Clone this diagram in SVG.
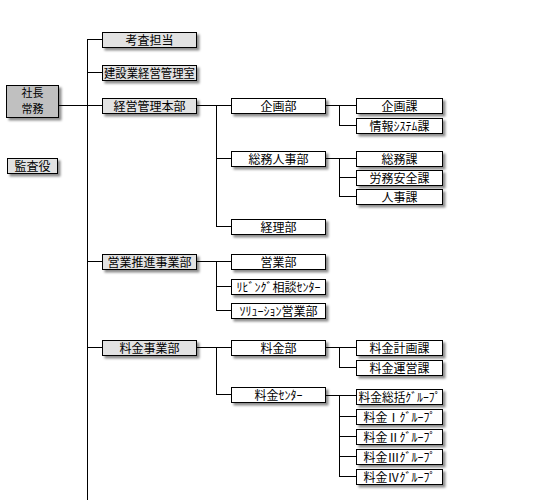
<svg xmlns="http://www.w3.org/2000/svg" width="550" height="500" viewBox="0 0 550 500">
<style>
.b{stroke:#000;stroke-width:1;}
.g1{fill:#c0c0c0;}
.g2{fill:#e2e2e2;}
.w{fill:#fff;}
text{font-family:"Noto Sans CJK JP","Noto Sans CJK SC",sans-serif;font-size:12px;fill:#000;text-anchor:middle;}
.s{font-size:11px;}
.c line{stroke:#000;stroke-width:1;fill:none;}
</style>
<defs>
<filter id="sh" x="-20%" y="-30%" width="150%" height="180%">
<feDropShadow dx="2.5" dy="2.5" stdDeviation="1.2" flood-color="#000" flood-opacity="0.45"/>
</filter>
</defs>
<rect width="550" height="500" fill="#fff"/>
<g class="c">
<line x1="87.5" y1="39.5" x2="87.5" y2="500"/>
<line x1="87" y1="39.5" x2="102" y2="39.5"/>
<line x1="87" y1="72.5" x2="102" y2="72.5"/>
<line x1="58" y1="105.5" x2="102" y2="105.5"/>
<line x1="87" y1="261.5" x2="102" y2="261.5"/>
<line x1="87" y1="347.5" x2="102" y2="347.5"/>
<line x1="196" y1="105.5" x2="231" y2="105.5"/>
<line x1="216.5" y1="105.5" x2="216.5" y2="226.5"/>
<line x1="216" y1="158.5" x2="231" y2="158.5"/>
<line x1="216" y1="226.5" x2="231" y2="226.5"/>
<line x1="325" y1="105.5" x2="356" y2="105.5"/>
<line x1="339.5" y1="105.5" x2="339.5" y2="125.5"/>
<line x1="339" y1="125.5" x2="356" y2="125.5"/>
<line x1="325" y1="158.5" x2="356" y2="158.5"/>
<line x1="339.5" y1="158.5" x2="339.5" y2="196.5"/>
<line x1="339" y1="177.5" x2="356" y2="177.5"/>
<line x1="339" y1="196.5" x2="356" y2="196.5"/>
<line x1="196" y1="261.5" x2="231" y2="261.5"/>
<line x1="216.5" y1="261.5" x2="216.5" y2="310.5"/>
<line x1="216" y1="286.5" x2="231" y2="286.5"/>
<line x1="216" y1="310.5" x2="231" y2="310.5"/>
<line x1="196" y1="347.5" x2="231" y2="347.5"/>
<line x1="216.5" y1="347.5" x2="216.5" y2="394.5"/>
<line x1="216" y1="394.5" x2="231" y2="394.5"/>
<line x1="325" y1="347.5" x2="356" y2="347.5"/>
<line x1="339.5" y1="347.5" x2="339.5" y2="367.5"/>
<line x1="339" y1="367.5" x2="356" y2="367.5"/>
<line x1="325" y1="395.5" x2="356" y2="395.5"/>
<line x1="339.5" y1="395.5" x2="339.5" y2="476.5"/>
<line x1="339" y1="416.5" x2="356" y2="416.5"/>
<line x1="339" y1="436.5" x2="356" y2="436.5"/>
<line x1="339" y1="456.5" x2="356" y2="456.5"/>
<line x1="339" y1="476.5" x2="356" y2="476.5"/>
</g>
<g id="shacho"><rect class="b g1" filter="url(#sh)" x="6.5" y="85.5" width="52" height="32"/><text class="s" x="32.5" y="97">社長</text><text class="s" x="32.5" y="113">常務</text></g>
<g id="kansayaku"><rect class="b g2" filter="url(#sh)" x="7.5" y="158.5" width="50" height="15"/><text x="32.5" y="170.5">監査役</text></g>
<g id="kosa"><rect class="b g2" filter="url(#sh)" x="102.5" y="32.5" width="94" height="15"/><text x="149.5" y="44.5">考査担当</text></g>
<g id="kensetsu"><rect class="b g2" filter="url(#sh)" x="102.5" y="65.5" width="94" height="15"/><text x="149.5" y="77.5" textLength="91" lengthAdjust="spacingAndGlyphs">建設業経営管理室</text></g>
<g id="keiei"><rect class="b g2" filter="url(#sh)" x="102.5" y="98.5" width="94" height="15"/><text x="149.5" y="110.5">経営管理本部</text></g>
<g id="eigyosuishin"><rect class="b g2" filter="url(#sh)" x="102.5" y="254.5" width="94" height="15"/><text x="149.5" y="266.5">営業推進事業部</text></g>
<g id="ryokinjigyo"><rect class="b g2" filter="url(#sh)" x="102.5" y="340.5" width="94" height="15"/><text x="149.5" y="352.5">料金事業部</text></g>
<g id="kikakubu"><rect class="b w" filter="url(#sh)" x="231.5" y="98.5" width="94" height="15"/><text x="278.5" y="110.5">企画部</text></g>
<g id="somujinji"><rect class="b w" filter="url(#sh)" x="231.5" y="151.5" width="94" height="15"/><text x="278.5" y="163.5">総務人事部</text></g>
<g id="keiri"><rect class="b w" filter="url(#sh)" x="231.5" y="219.5" width="94" height="15"/><text x="278.5" y="231.5">経理部</text></g>
<g id="eigyobu"><rect class="b w" filter="url(#sh)" x="231.5" y="254.5" width="94" height="15"/><text x="278.5" y="266.5">営業部</text></g>
<g id="living"><rect class="b w" filter="url(#sh)" x="231.5" y="279.5" width="94" height="15"/><text x="278.5" y="291.5">ﾘﾋﾞﾝｸﾞ相談ｾﾝﾀｰ</text></g>
<g id="solution"><rect class="b w" filter="url(#sh)" x="231.5" y="303.5" width="94" height="15"/><text x="278.5" y="315.5">ｿﾘｭｰｼｮﾝ営業部</text></g>
<g id="ryokinbu"><rect class="b w" filter="url(#sh)" x="231.5" y="340.5" width="94" height="15"/><text x="278.5" y="352.5">料金部</text></g>
<g id="ryokincenter"><rect class="b w" filter="url(#sh)" x="231.5" y="387.5" width="94" height="15"/><text x="278.5" y="399.5">料金ｾﾝﾀｰ</text></g>
<g id="kikakuka"><rect class="b w" filter="url(#sh)" x="356.5" y="98.5" width="86" height="15"/><text x="399.5" y="110.5">企画課</text></g>
<g id="joho"><rect class="b w" filter="url(#sh)" x="356.5" y="118.5" width="86" height="15"/><text x="399.5" y="130.5">情報ｼｽﾃﾑ課</text></g>
<g id="somuka"><rect class="b w" filter="url(#sh)" x="356.5" y="151.5" width="86" height="15"/><text x="399.5" y="163.5">総務課</text></g>
<g id="romu"><rect class="b w" filter="url(#sh)" x="356.5" y="170.5" width="86" height="15"/><text x="399.5" y="182.5">労務安全課</text></g>
<g id="jinji"><rect class="b w" filter="url(#sh)" x="356.5" y="189.5" width="86" height="15"/><text x="399.5" y="201.5">人事課</text></g>
<g id="ryokinkeikaku"><rect class="b w" filter="url(#sh)" x="356.5" y="340.5" width="86" height="15"/><text x="399.5" y="352.5">料金計画課</text></g>
<g id="ryokinunei"><rect class="b w" filter="url(#sh)" x="356.5" y="360.5" width="86" height="15"/><text x="399.5" y="372.5">料金運営課</text></g>
<g id="sokatsu"><rect class="b w" filter="url(#sh)" x="356.5" y="389.5" width="86" height="15"/><text x="399.5" y="401.5" textLength="82" lengthAdjust="spacingAndGlyphs">料金総括ｸﾞﾙｰﾌﾟ</text></g>
<g id="g1"><rect class="b w" filter="url(#sh)" x="356.5" y="409.5" width="86" height="15"/><text x="399.5" y="421.5">料金Ⅰｸﾞﾙｰﾌﾟ</text></g>
<g id="g2"><rect class="b w" filter="url(#sh)" x="356.5" y="429.5" width="86" height="15"/><text x="399.5" y="441.5">料金Ⅱｸﾞﾙｰﾌﾟ</text></g>
<g id="g3"><rect class="b w" filter="url(#sh)" x="356.5" y="449.5" width="86" height="15"/><text x="399.5" y="461.5">料金Ⅲｸﾞﾙｰﾌﾟ</text></g>
<g id="g4"><rect class="b w" filter="url(#sh)" x="356.5" y="469.5" width="86" height="15"/><text x="399.5" y="481.5">料金Ⅳｸﾞﾙｰﾌﾟ</text></g>
</svg>
